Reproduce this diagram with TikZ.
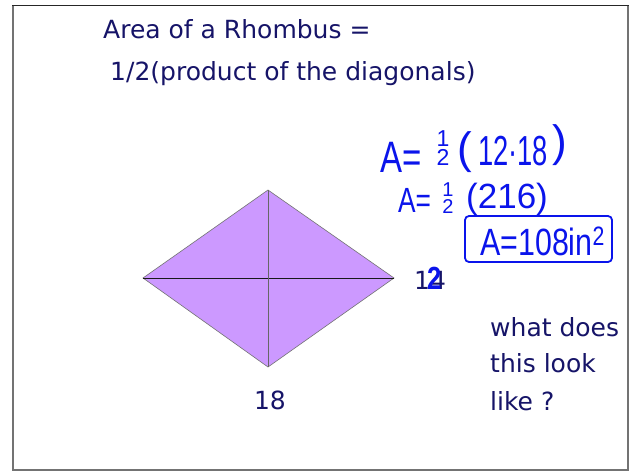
\documentclass[tikz,border=0pt]{standalone}
\usepackage{fontspec}
\setmainfont{DejaVu Sans}
\newfontfamily\handfont{Liberation Sans}
\usetikzlibrary{positioning}
\definecolor{inkNavy}{RGB}{22,20,104}
\definecolor{penBlue}{RGB}{10,20,235}
\definecolor{rhombFill}{RGB}{204,153,255}
\newcommand{\narrow}[2][0.75]{\scalebox{#1}[1]{#2}}
\newcommand{\halfhand}[1]{\shortstack{\fontsize{#1}{#1}\selectfont 1\\[0pt]\fontsize{#1}{#1}\selectfont 2}}
\begin{document}
\begin{tikzpicture}[
  x=1pt, y=-1pt,
  title/.style={text=inkNavy, anchor=base west, inner sep=0pt,
                font=\fontsize{25}{30}\selectfont},
  label/.style={text=inkNavy, inner sep=0pt, font=\fontsize{25}{30}\selectfont},
  hand/.style={text=penBlue, inner sep=0pt, anchor=base west,
               font=\handfont\fontsize{44}{44}\selectfont},
  handmid/.style={hand, font=\handfont\fontsize{35}{35}\selectfont},
  diag/.style={line width=0.9pt},
  frameline/.style={draw=black!55, line width=2.5pt}
]
\useasboundingbox (0,0) rectangle (634,474);

% window frame
\fill[white] (12,5) rectangle (629,470);
\draw[frameline] (13,5) -- (13,470) -- (628,470) -- (628,5);
\draw[black!85, line width=1pt] (12,5) -- (629,5);

% title
\node[title] (t1) at (103,38) {Area of a Rhombus =};
\node[title] (t2) at (110,80) {1/2(product of the diagonals)};

% rhombus
\coordinate (L) at (143,278);
\coordinate (T) at (268,190);
\coordinate (R) at (394,278);
\coordinate (B) at (268,367);
\filldraw[fill=rhombFill, draw=black!55, line width=0.6pt] (L) -- (T) -- (R) -- (B) -- cycle;
\draw[diag, black!90] (L) -- (R);
\draw[diag, black!60] (T) -- (B);

% diagonal lengths
\node[label] (d18) at (270,400) {18};
\node[label, anchor=base west] (d14) at (414,289) {14};
\node[hand, font=\handfont\bfseries\fontsize{32}{32}\selectfont] (fix) at (427,289) {\narrow[0.8]{2}};

% working, first line
\node[hand] (a1) at (380,172) {\narrow{A=}};
\node[hand, anchor=center] (h1) at (443,148) {\halfhand{23}};
\node[hand] (lp1) at (457,163) {(};
\node[hand, font=\handfont\fontsize{42}{42}\selectfont] (n1) at (478,165) {\narrow[0.65]{12·18}};
\node[hand] (rp1) at (552,156) {)};

% working, second line
\node[handmid] (a2) at (398,212) {\narrow{A=}};
\node[hand, anchor=center] (h2) at (448,198) {\halfhand{20}};
\node[handmid] (n2) at (466,208) {(216)};

% result
\node[hand, font=\handfont\fontsize{38}{38}\selectfont] (a3) at (480,255) {\narrow[0.8]{A=108in\textsuperscript{2}}};
\draw[penBlue, line width=1.8pt, rounded corners=4pt] (465,216) rectangle (612,262);

% question
\node[label, anchor=base west] (q1) at (490,336) {what does};
\node[label, anchor=base west] (q2) at (490,372) {this look};
\node[label, anchor=base west] (q3) at (490,410) {like ?};
\end{tikzpicture}
\end{document}
